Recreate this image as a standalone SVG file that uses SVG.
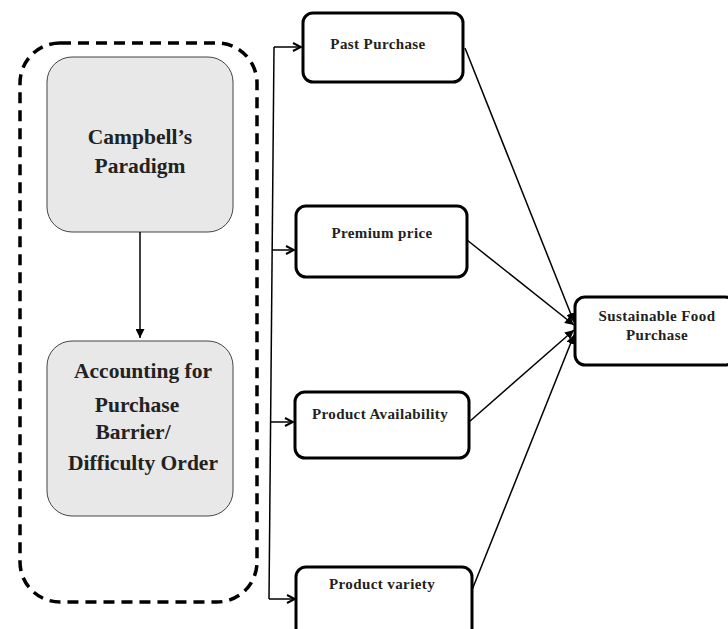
<svg xmlns="http://www.w3.org/2000/svg" width="728" height="629" viewBox="0 0 728 629">
<style>
.t{font-family:'Liberation Serif','DejaVu Serif',serif;font-weight:bold;fill:#222;text-anchor:middle}
.big{font-size:21.5px}
.sm{font-size:15px;letter-spacing:0.4px}
.gray{fill:#e8e8e8;stroke:#444;stroke-width:1}
.box{fill:#fff;stroke:#000;stroke-width:3}
.ln{stroke:#000;stroke-width:1.5;fill:none}
</style>
<defs>
<marker id="open" viewBox="0 0 10 10" refX="9" refY="5" markerWidth="10" markerHeight="10" markerUnits="userSpaceOnUse" orient="auto">
<path d="M1,1 L9,5 L1,9" fill="none" stroke="#000" stroke-width="2"/>
</marker>
<marker id="fill" viewBox="0 0 10 10" refX="10" refY="5" markerWidth="9" markerHeight="9" markerUnits="userSpaceOnUse" orient="auto">
<path d="M0,0 L10,5 L0,10 z" fill="#000"/>
</marker>
</defs>
<g id="container">
<rect x="20" y="43" width="237" height="559" rx="40" fill="none" stroke="#000" stroke-width="3.5" stroke-dasharray="11,7"/>
</g>
<g id="campbell">
<rect class="gray" x="47" y="57" width="186" height="175" rx="25"/>
<text class="t big" x="140" y="144">Campbell’s</text>
<text class="t big" x="140" y="173">Paradigm</text>
</g>
<g id="accounting">
<rect class="gray" x="47" y="341" width="186" height="175" rx="25"/>
<text class="t big" x="143" y="378">Accounting for</text>
<text class="t big" x="137" y="412">Purchase</text>
<text class="t big" x="133" y="439">Barrier/</text>
<text class="t big" x="143" y="470">Difficulty Order</text>
</g>
<g id="past">
<rect class="box" x="303" y="13" width="160" height="69" rx="10"/>
<text class="t sm" x="378" y="49">Past Purchase</text>
</g>
<g id="premium">
<rect class="box" x="296" y="206" width="171" height="71" rx="10"/>
<text class="t sm" x="382" y="238">Premium price</text>
</g>
<g id="availability">
<rect class="box" x="295" y="392" width="174" height="66" rx="10"/>
<text class="t sm" x="380" y="419">Product Availability</text>
</g>
<g id="variety">
<rect class="box" x="296" y="567" width="176" height="80" rx="10"/>
<text class="t sm" x="382" y="589">Product variety</text>
</g>
<g id="sustainable">
<rect class="box" x="575" y="297" width="160" height="68" rx="10"/>
<text class="t sm" x="657" y="321">Sustainable Food</text>
<text class="t sm" x="657" y="340">Purchase</text>
</g>
<g id="connectors">
<line class="ln" x1="140" y1="232" x2="140" y2="338" marker-end="url(#fill)"/>
<line class="ln" x1="274" y1="47" x2="269" y2="599"/>
<line class="ln" x1="274" y1="47" x2="301" y2="47" marker-end="url(#open)"/>
<line class="ln" x1="272" y1="250" x2="294" y2="250" marker-end="url(#open)"/>
<line class="ln" x1="271" y1="422" x2="293" y2="422" marker-end="url(#open)"/>
<line class="ln" x1="269" y1="599" x2="295" y2="599" marker-end="url(#open)"/>
<line class="ln" x1="465" y1="48" x2="574" y2="322" marker-end="url(#fill)"/>
<line class="ln" x1="467" y1="240" x2="574" y2="325" marker-end="url(#fill)"/>
<line class="ln" x1="469" y1="422" x2="574" y2="330" marker-end="url(#fill)"/>
<line class="ln" x1="472" y1="590" x2="574" y2="335" marker-end="url(#fill)"/>
</g>
</svg>
